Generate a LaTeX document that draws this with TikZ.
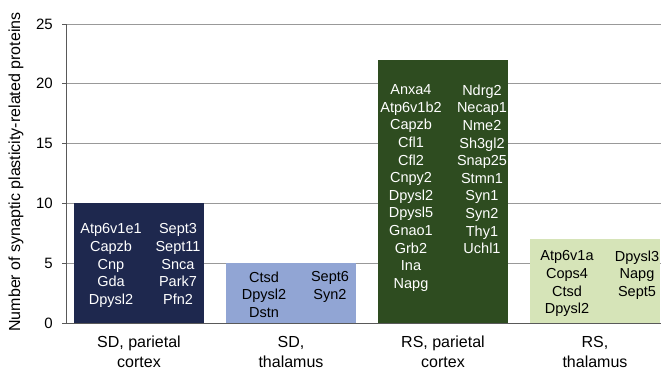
\documentclass[tikz,border=0pt]{standalone}
\usepackage{fontspec}
\setmainfont{Liberation Sans}
\definecolor{barA}{RGB}{30,40,78}
\definecolor{barB}{RGB}{145,165,212}
\definecolor{barC}{RGB}{46,76,32}
\definecolor{barD}{RGB}{214,228,184}
\begin{document}
\begin{tikzpicture}[x=1pt,y=-1pt,
  grid/.style={draw=gray!80, line width=0.8pt},
  axisline/.style={draw=gray!70!black, line width=0.9pt},
  bartxt/.style={font=\fontsize{14.5}{17.6}\selectfont, align=center, inner sep=0pt, anchor=north},
  cat/.style={font=\fontsize{16}{20}\selectfont, align=center, inner sep=0pt, anchor=north, text=black},
  tick/.style={font=\fontsize{15}{16}\selectfont, inner sep=0pt, anchor=east}]
\useasboundingbox (0,0) rectangle (663,372);
% gridlines
\foreach \v in {5,10,15,20,25}{
  \draw[grid] (66,{323-11.96*\v}) -- (661,{323-11.96*\v});
  \draw[axisline] (62,{323-11.96*\v}) -- (66,{323-11.96*\v});
}
% bars
\fill[barA] (74,323) rectangle (204,{323-11.96*10});
\fill[barB] (226,323) rectangle (356,{323-11.96*5});
\fill[barC] (378,323) rectangle (508,{323-11.96*22});
\fill[barD] (530,323) rectangle (660,{323-11.96*7});
% axes
\coordinate (o) at (66,323);
\coordinate (ytop) at (66,24);
\coordinate (xend) at (661,323);
\draw[axisline] (ytop) -- (o) -- (xend);
\draw[axisline] (62,323) -- (o);
% tick labels
\foreach \v in {0,5,10,15,20,25}{
  \node[tick] (t\v) at (53,{323-11.96*\v}) {\v};
}
% y label
\node[rotate=90, font=\fontsize{16}{18}\selectfont, inner sep=0pt] (ylab) at (16,172) {Number of synaptic plasticity-related proteins};
% bar texts
\node[bartxt, text=white] (a1) at (111,223.5) {Atp6v1e1\\Capzb\\Cnp\\Gda\\Dpysl2};
\node[bartxt, text=white] (a2) at (178,223.5) {Sept3\\Sept11\\Snca\\Park7\\Pfn2};
\node[bartxt, text=black] (b1) at (264,271.5) {Ctsd\\Dpysl2\\Dstn};
\node[bartxt, text=black] (b2) at (330,271.5) {Sept6\\Syn2};
\node[bartxt, text=white] (c1) at (411,84.5) {Anxa4\\Atp6v1b2\\Capzb\\Cfl1\\Cfl2\\Cnpy2\\Dpysl2\\Dpysl5\\Gnao1\\Grb2\\Ina\\Napg};
\node[bartxt, text=white] (c2) at (482,84.5) {Ndrg2\\Necap1\\Nme2\\Sh3gl2\\Snap25\\Stmn1\\Syn1\\Syn2\\Thy1\\Uchl1};
\node[bartxt, text=black] (d1) at (567,250.5) {Atp6v1a\\Cops4\\Ctsd\\Dpysl2};
\node[bartxt, text=black] (d2) at (637,250.5) {Dpysl3\\Napg\\Sept5};
% category labels
\node[cat] (ca) at (139,336) {SD, parietal\\cortex};
\node[cat] (cb) at (291,336) {SD,\\thalamus};
\node[cat] (cc) at (443,336) {RS, parietal\\cortex};
\node[cat] (cd) at (595,336) {RS,\\thalamus};
\end{tikzpicture}
\end{document}
